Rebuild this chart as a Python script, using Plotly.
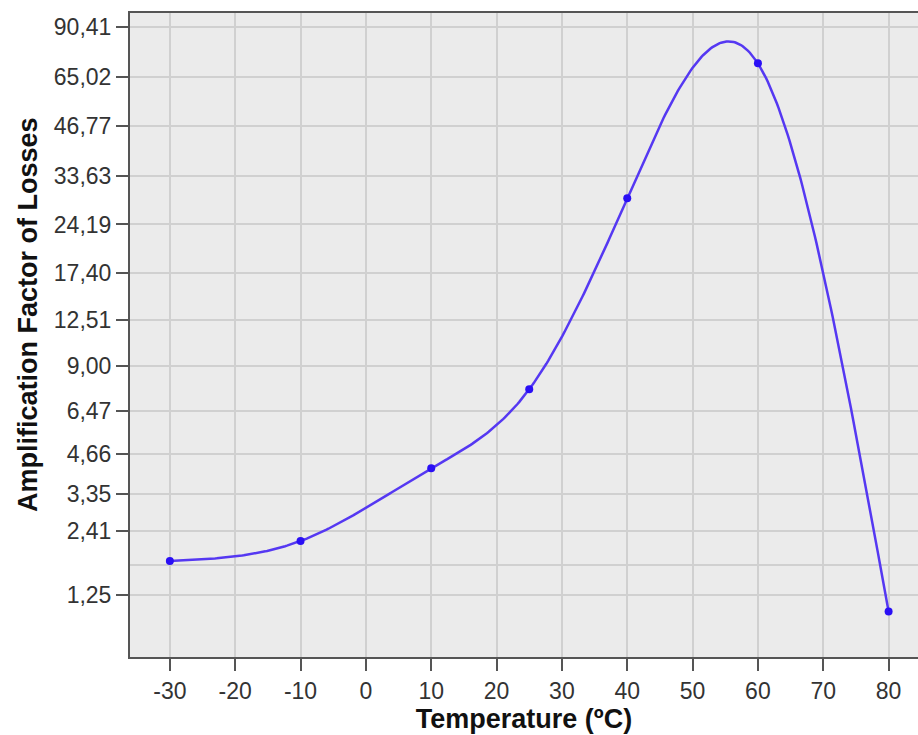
import numpy as np
import plotly.graph_objects as go

# Data
temperature = [-30, -10, 10, 25, 40, 60, 80]
amplification = [1.81, 2.20, 4.14, 7.60, 28.9, 71.0, 1.02]

y_tick_values = [1.25, 2.41, 3.35, 4.66, 6.47, 9.00, 12.51, 17.40, 24.19, 33.63, 46.77, 65.02, 90.41]
y_tick_labels = ["1,25", "2,41", "3,35", "4,66", "6,47", "9,00", "12,51", "17,40", "24,19", "33,63", "46,77", "65,02", "90,41"]
y_extra_grid = [1.74]
x_ticks = [-30, -20, -10, 0, 10, 20, 30, 40, 50, 60, 70, 80]


def tr(v):
    # axis scale used by the original chart: log(y + 1)
    return np.log(np.asarray(v, dtype=float) + 1.0)


def natural_spline(xs, ys, n=400):
    # interpolation-line rendering (natural cubic spline), as in the original chart
    xs = np.asarray(xs, float)
    ys = np.asarray(ys, float)
    k = len(xs)
    h = np.diff(xs)
    A = np.zeros((k, k))
    rhs = np.zeros(k)
    A[0, 0] = 1.0
    A[-1, -1] = 1.0
    for i in range(1, k - 1):
        A[i, i - 1] = h[i - 1]
        A[i, i] = 2 * (h[i - 1] + h[i])
        A[i, i + 1] = h[i]
        rhs[i] = 6 * ((ys[i + 1] - ys[i]) / h[i] - (ys[i] - ys[i - 1]) / h[i - 1])
    M = np.linalg.solve(A, rhs)
    xx = np.linspace(xs[0], xs[-1], n)
    idx = np.clip(np.searchsorted(xs, xx) - 1, 0, k - 2)
    x0, x1 = xs[idx], xs[idx + 1]
    y0, y1 = ys[idx], ys[idx + 1]
    m0, m1 = M[idx], M[idx + 1]
    hh = x1 - x0
    a = (x1 - xx) / hh
    b = (xx - x0) / hh
    yy = a * y0 + b * y1 + ((a ** 3 - a) * m0 + (b ** 3 - b) * m1) * hh ** 2 / 6.0
    return xx, yy


curve_x, curve_y = natural_spline(temperature, tr(amplification))

fig = go.Figure()
fig.add_trace(go.Scatter(
    x=curve_x, y=curve_y, mode="lines",
    line=dict(color="#5538f2", width=2.5),
    showlegend=False, hoverinfo="skip",
))
fig.add_trace(go.Scatter(
    x=temperature, y=tr(amplification), mode="markers",
    marker=dict(color="#2a0ff5", size=8),
    showlegend=False, hoverinfo="skip",
))

font_family = "Liberation Sans, Arial, sans-serif"

fig.update_layout(
    width=918, height=735,
    margin=dict(l=130, r=0, t=13, b=78),
    paper_bgcolor="white",
    plot_bgcolor="#ebebeb",
    font=dict(family=font_family, size=23, color="#333333"),
    xaxis=dict(
        range=[-36.1, 84.5],
        tickvals=x_ticks,
        ticktext=[str(v) for v in x_ticks],
        showgrid=True, gridcolor="#d0d0d0", gridwidth=2,
        zeroline=False,
        showline=True, linecolor="#555555", linewidth=2, mirror=True,
        ticks="outside", ticklen=12, tickwidth=2, tickcolor="#555555",
        tickfont=dict(size=23, color="#333333"),
        title=dict(text="<b>Temperature (ºC)</b>", font=dict(size=27, color="#111111"), standoff=2),
    ),
    yaxis=dict(
        range=[0.407, 4.605],
        tickvals=list(tr(y_tick_values)),
        ticktext=y_tick_labels,
        showgrid=True, gridcolor="#d0d0d0", gridwidth=2,
        zeroline=False,
        showline=True, linecolor="#555555", linewidth=2,
        ticks="outside", ticklen=12, tickwidth=2, tickcolor="#555555",
        tickfont=dict(size=23, color="#333333"),
        minor=dict(tickvals=list(tr(y_extra_grid)), showgrid=True, gridcolor="#d0d0d0", gridwidth=2, ticklen=0),
    ),
    annotations=[dict(
        text="<b>Amplification Factor of Losses</b>",
        xref="paper", yref="paper", x=-0.1294, y=0.531,
        xanchor="center", yanchor="middle", textangle=-90, showarrow=False,
        font=dict(size=27, color="#111111", family=font_family),
    )],
)

fig.write_html("out.html")
